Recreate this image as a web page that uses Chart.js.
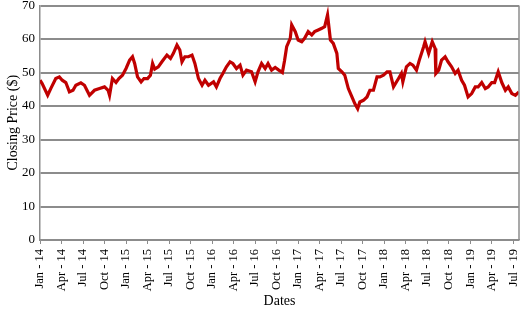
<!DOCTYPE html>
<html lang="en">
<head>
    <meta charset="UTF-8" />
    <script src="https://cdn.jsdelivr.net/npm/chart.js"></script>
    <title>Closing Price</title>
    <style>
        body { margin: 0; background: #fff; }
    </style>
</head>
<body>
    <canvas id="myChart" width="525" height="313"></canvas>
<script>
// months after Jan 2014, and closing price
var months = [0, 0.3, 1.07, 1.5, 2.2, 2.7, 3.1, 3.6, 4.1, 4.6, 5.0, 5.7, 6.2, 6.9, 7.6, 8.3, 9.0, 9.5, 9.7, 10.1,
    10.6, 11.0, 11.5, 12.0, 12.5, 12.9, 13.2, 13.6, 14.1, 14.5, 15.0, 15.4, 15.7, 16.0, 16.5, 17.0, 17.7, 18.2, 18.6, 19.1,
    19.5, 19.8, 20.2, 20.7, 21.2, 21.6, 22.1, 22.6, 23.0, 23.5, 24.2, 24.6, 25.1, 25.5, 26.0, 26.5, 26.9, 27.4, 27.9, 28.3,
    28.8, 29.5, 30.0, 30.4, 30.9, 31.4, 31.8, 32.3, 32.8, 33.3, 33.8, 34.1, 34.4, 34.9, 35.1, 35.6, 36.0, 36.5, 36.9, 37.4,
    37.9, 38.3, 38.8, 39.3, 39.7, 40.1, 40.5, 40.9, 41.4, 41.6, 42.1, 42.5, 43.0, 43.5, 43.9, 44.3, 44.6, 45.1, 45.6, 46.0,
    46.5, 47.0, 47.4, 47.9, 48.4, 48.8, 49.3, 50.0, 50.4, 50.6, 51.1, 51.6, 52.0, 52.5, 52.9, 53.5, 53.7, 54.2, 54.7, 55.1,
    55.2, 55.6, 56.0, 56.5, 56.9, 57.4, 57.9, 58.3, 58.8, 59.2, 59.7, 60.2, 60.7, 61.1, 61.6, 62.1, 62.5, 63.0, 63.4, 63.9,
    64.4, 64.9, 65.3, 65.8, 66.3, 66.8];
var prices = [47.7, 46.7, 43.2, 45.2, 48.2, 48.7, 47.7, 47, 44.2, 44.7, 46.2, 46.9, 46.2, 43.2, 44.7, 45.2, 45.7, 44.7, 43.2, 48.2,
    47, 48.2, 49.2, 51.2, 53.7, 54.7, 52.7, 48.7, 47.2, 48.2, 48.2, 49.2, 52.7, 51, 51.7, 53.2, 55.2, 54.2, 55.7, 58.2,
    56.7, 53.2, 54.7, 54.7, 55.2, 52.7, 48.2, 46.2, 47.7, 46.2, 47.2, 45.7, 48.2, 49.7, 51.7, 53.2, 52.7, 51.2, 52.2, 49.2,
    50.7, 50.2, 47.2, 50.2, 52.7, 51.2, 52.7, 50.7, 51.5, 50.7, 50.0, 53.5, 57.7, 60.2, 64.2, 62.2, 59.7, 59.2, 60.2, 62.2,
    61.2, 62.2, 62.7, 63.2, 63.7, 67.2, 59.7, 58.7, 55.7, 51.2, 50.2, 49.2, 45.2, 42.7, 40.7, 39.2, 41.2, 41.7, 42.7, 44.7,
    44.7, 48.7, 48.7, 49.2, 50.2, 50.2, 45.7, 48.2, 49.7, 47.2, 51.7, 52.7, 52.2, 50.7, 53.7, 57.7, 59.2, 55.7, 59.2, 57.2,
    49.7, 50.7, 53.7, 54.7, 53.2, 51.7, 49.7, 50.7, 47.7, 46.2, 42.7, 43.7, 45.7, 45.7, 47, 45.2, 45.7, 47, 47, 50.2,
    47, 44.7, 45.7, 43.7, 43.2, 44.2];
var tickLabels = ["Jan - 14", "Apr - 14", "Jul - 14", "Oct - 14", "Jan - 15", "Apr - 15", "Jul - 15", "Oct - 15",
    "Jan - 16", "Apr - 16", "Jul - 16", "Oct - 16", "Jan - 17", "Apr - 17", "Jul - 17", "Oct - 17",
    "Jan - 18", "Apr - 18", "Jul - 18", "Oct - 18", "Jan - 19", "Apr - 19", "Jul - 19"];

var fonte = "'Liberation Serif', 'DejaVu Serif', serif";

var pontos = [];
for (var i = 0; i < months.length; i++) {
    pontos.push({ x: months[i], y: prices[i] });
}

// borda direita da area do grafico
var bordaDireita = {
    id: "bordaDireita",
    afterDraw: function (chart) {
        var a = chart.chartArea;
        var ctx = chart.ctx;
        ctx.save();
        ctx.strokeStyle = "#8c8c8c";
        ctx.lineWidth = 1.5;
        ctx.beginPath();
        ctx.moveTo(a.right, a.top);
        ctx.lineTo(a.right, a.bottom);
        ctx.stroke();
        ctx.restore();
    }
};

var chart = new Chart(document.getElementById("myChart"), {
    type: "line",
    data: {
        datasets: [{
            label: "Closing Price",
            data: pontos,
            borderColor: "#c00000",
            borderWidth: 3.2,
            pointRadius: 0,
            tension: 0,
            fill: false
        }]
    },
    options: {
        responsive: false,
        animation: false,
        layout: { padding: { left: 0, right: 6, top: 5.5, bottom: 0 } },
        plugins: {
            legend: { display: false },
            tooltip: { enabled: false }
        },
        scales: {
            x: {
                type: "linear",
                min: 0,
                max: 66.8,
                afterBuildTicks: function (s) {
                    s.ticks = tickLabels.map(function (_, k) { return { value: k * 3 }; });
                },
                afterFit: function (s) {
                    s.height = 73;
                    s.paddingLeft = 0;
                    s.paddingRight = 0;
                },
                grid: { drawOnChartArea: false, drawTicks: true, tickLength: 4, color: "#8c8c8c" },
                border: { color: "#8c8c8c", width: 1.5 },
                ticks: {
                    autoSkip: false,
                    maxRotation: 90,
                    minRotation: 90,
                    padding: 5,
                    color: "#000",
                    font: { family: fonte, size: 12.5 },
                    callback: function (v) { return tickLabels[Math.round(v / 3)]; }
                },
                title: {
                    display: true,
                    text: "Dates",
                    color: "#000",
                    font: { family: fonte, size: 14 },
                    padding: { top: 0, bottom: 3 }
                }
            },
            y: {
                min: 0,
                max: 70,
                afterFit: function (s) {
                    s.width = 40;
                    s.paddingTop = 0;
                    s.paddingBottom = 0;
                },
                ticks: {
                    stepSize: 10,
                    padding: 5,
                    color: "#000",
                    font: { family: fonte, size: 13 }
                },
                grid: { color: "#8c8c8c", lineWidth: 2, drawTicks: false },
                border: { color: "#8c8c8c", width: 1.5 },
                title: {
                    display: true,
                    text: "Closing Price ($)",
                    color: "#000",
                    font: { family: fonte, size: 14 },
                    padding: { top: 4.5, bottom: 0 }
                }
            }
        }
    },
    plugins: [bordaDireita]
});
</script>
</body>
</html>
